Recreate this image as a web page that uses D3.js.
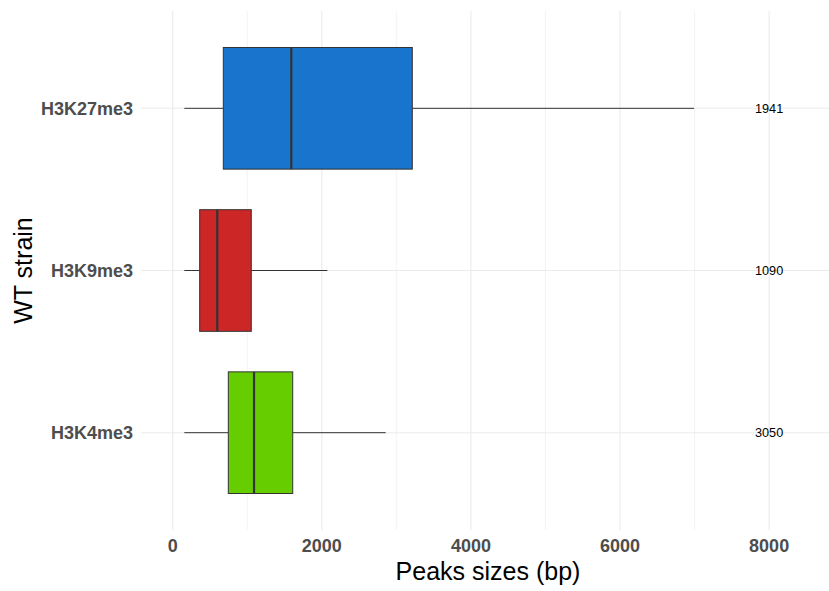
<!DOCTYPE html>
<html>
<head>
<meta charset="utf-8">
<script src="https://cdn.jsdelivr.net/npm/d3@7"></script>
<style>
  html, body { margin: 0; padding: 0; background: #fff; }
  svg { display: block; font-family: "Liberation Sans", Arial, sans-serif; }
</style>
</head>
<body>
<svg id="chart" width="829" height="591"></svg>
<script>
// Histone marks, top to bottom
const categories = ["H3K27me3", "H3K9me3", "H3K4me3"];
// Box-plot statistics of peak sizes (bp)
const whiskerLow  = [156, 156, 156];
const q1          = [679, 362, 746];
const median      = [1591, 598, 1091];
const q3          = [3214, 1054, 1610];
const whiskerHigh = [6993, 2074, 2857];
// Number of peaks per mark
const peakCounts  = [1941, 1090, 3050];
const countLabelX = 8000;
const fills = ["#1874CD", "#CD2626", "#66CD00"];
const xTicks = [0, 2000, 4000, 6000, 8000];
const xMinor = [1000, 3000, 5000, 7000];

const svg = d3.select("#chart");
const panel = { left: 141, right: 829, top: 11, bottom: 530 };

const x = d3.scaleLinear().domain([-425, 8803]).range([panel.left, panel.right]);
// discrete spacing: 0.6 unit expansion either side of the categories
const step = (panel.bottom - panel.top) / (categories.length - 1 + 1.2);
const yc = d => panel.top + step * (0.6 + categories.indexOf(d));
const boxH = step * 0.75;

// grid
const g = svg.append("g");
g.selectAll("line.minor").data(xMinor).join("line")
  .attr("x1", d => x(d)).attr("x2", d => x(d))
  .attr("y1", panel.top).attr("y2", panel.bottom)
  .attr("stroke", "#EBEBEB").attr("stroke-width", 0.6);
g.selectAll("line.major").data(xTicks).join("line")
  .attr("x1", d => x(d)).attr("x2", d => x(d))
  .attr("y1", panel.top).attr("y2", panel.bottom)
  .attr("stroke", "#EBEBEB").attr("stroke-width", 1.1);
g.selectAll("line.hgrid").data(categories).join("line")
  .attr("x1", panel.left).attr("x2", panel.right)
  .attr("y1", d => yc(d)).attr("y2", d => yc(d))
  .attr("stroke", "#EBEBEB").attr("stroke-width", 1.1);

// boxes
const rows = categories.map((c, i) => ({
  c, lo: whiskerLow[i], q1: q1[i], med: median[i], q3: q3[i], hi: whiskerHigh[i],
  n: peakCounts[i], fill: fills[i]
}));
const bx = svg.append("g").selectAll("g").data(rows).join("g");
bx.append("line")
  .attr("x1", d => x(d.lo)).attr("x2", d => x(d.q1))
  .attr("y1", d => yc(d.c)).attr("y2", d => yc(d.c))
  .attr("stroke", "#333333").attr("stroke-width", 1);
bx.append("line")
  .attr("x1", d => x(d.q3)).attr("x2", d => x(d.hi))
  .attr("y1", d => yc(d.c)).attr("y2", d => yc(d.c))
  .attr("stroke", "#333333").attr("stroke-width", 1);
bx.append("rect")
  .attr("x", d => x(d.q1)).attr("width", d => x(d.q3) - x(d.q1))
  .attr("y", d => yc(d.c) - boxH / 2).attr("height", boxH)
  .attr("fill", d => d.fill).attr("stroke", "#333333").attr("stroke-width", 1);
bx.append("line")
  .attr("x1", d => x(d.med)).attr("x2", d => x(d.med))
  .attr("y1", d => yc(d.c) - boxH / 2).attr("y2", d => yc(d.c) + boxH / 2)
  .attr("stroke", "#333333").attr("stroke-width", 2.2);
bx.append("text")
  .attr("x", x(countLabelX)).attr("y", d => yc(d.c))
  .attr("dy", "0.36em").attr("text-anchor", "middle")
  .attr("font-size", 12.7).attr("fill", "#000")
  .text(d => d.n);

// x axis tick labels
svg.append("g").selectAll("text").data(xTicks).join("text")
  .attr("x", d => x(d)).attr("y", 552)
  .attr("text-anchor", "middle").attr("font-size", 18).attr("font-weight", "bold")
  .attr("fill", "#4D4D4D").text(d => d);

// y axis tick labels
svg.append("g").selectAll("text").data(categories).join("text")
  .attr("x", 133).attr("y", d => yc(d)).attr("dy", "0.36em")
  .attr("text-anchor", "end").attr("font-size", 18).attr("font-weight", "bold")
  .attr("fill", "#4D4D4D").text(d => d);

// axis titles
svg.append("text")
  .attr("x", 488).attr("y", 580)
  .attr("text-anchor", "middle").attr("font-size", 25).attr("fill", "#000")
  .text("Peaks sizes (bp)");
svg.append("text")
  .attr("transform", `translate(32,${(panel.top + panel.bottom) / 2}) rotate(-90)`)
  .attr("text-anchor", "middle").attr("font-size", 25).attr("fill", "#000")
  .text("WT strain");
</script>
</body>
</html>
